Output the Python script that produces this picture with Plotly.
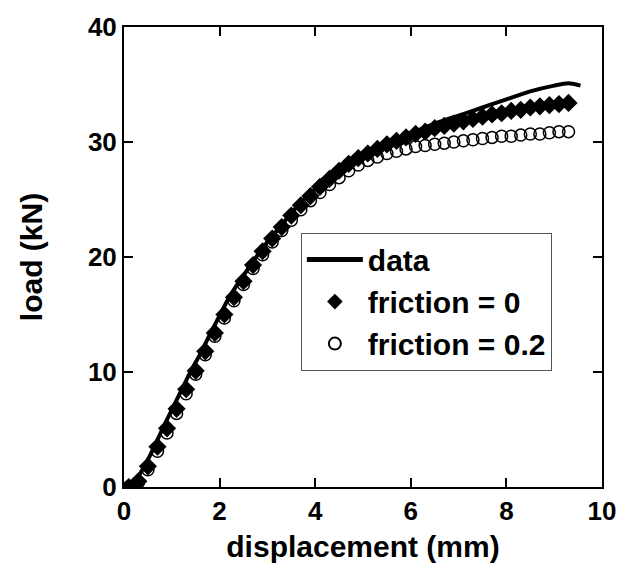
import plotly.graph_objects as go

# measured data (solid line)
data_disp = [0.1, 0.2, 0.4, 0.6, 0.8, 1.0, 1.2, 1.4, 1.6, 1.8, 2.0, 2.2, 2.4, 2.6, 2.8, 3.0,
             3.3, 3.6, 4.0, 4.3, 4.6, 5.0, 5.4, 5.9, 6.5, 7.0, 7.5, 8.0, 8.5, 9.0, 9.3, 9.55]
data_load = [0.0, 0.3, 1.6, 3.2, 5.0, 6.7, 8.4, 10.1, 11.6, 13.3, 14.9, 16.5, 17.8, 19.0, 20.2, 21.3,
             22.8, 24.3, 25.9, 27.0, 28.0, 29.0, 29.8, 30.6, 31.6, 32.3, 33.0, 33.7, 34.4, 34.9, 35.1, 34.9]

# simulation displacements
sim_disp = [0.1, 0.3, 0.5, 0.7, 0.9, 1.1, 1.3, 1.5, 1.7, 1.9, 2.1, 2.3, 2.5, 2.7, 2.9, 3.1, 3.3, 3.5,
            3.7, 3.9, 4.1, 4.3, 4.5, 4.7, 4.9, 5.1, 5.3, 5.5, 5.7, 5.9, 6.1, 6.3, 6.5, 6.7, 6.9, 7.1,
            7.3, 7.5, 7.7, 7.9, 8.1, 8.3, 8.5, 8.7, 8.9, 9.1, 9.3]
# friction = 0 (diamonds)
load_f0 = [0.0, 0.5, 1.8, 3.5, 5.1, 6.8, 8.5, 10.1, 11.8, 13.4, 15.0, 16.5, 17.9, 19.3, 20.5, 21.6, 22.6, 23.6,
           24.5, 25.3, 26.1, 26.8, 27.5, 28.1, 28.6, 29.0, 29.4, 29.8, 30.1, 30.4, 30.7, 30.9, 31.2, 31.4, 31.6, 31.8,
           32.0, 32.2, 32.4, 32.5, 32.7, 32.8, 33.0, 33.1, 33.2, 33.3, 33.4]
# friction = 0.2 (open circles)
load_f02 = [0.0, 0.4, 1.5, 3.1, 4.7, 6.4, 8.1, 9.8, 11.5, 13.1, 14.7, 16.2, 17.6, 19.0, 20.2, 21.3, 22.3, 23.2,
            24.1, 24.9, 25.6, 26.3, 26.9, 27.5, 28.0, 28.4, 28.7, 29.0, 29.2, 29.4, 29.6, 29.7, 29.8, 29.9, 30.0, 30.1,
            30.2, 30.3, 30.4, 30.5, 30.5, 30.6, 30.7, 30.7, 30.8, 30.9, 30.9]

x_ticks = [0, 2, 4, 6, 8, 10]
y_ticks = [0, 10, 20, 30, 40]

FONT = "Liberation Sans, Arial, sans-serif"

fig = go.Figure()
fig.add_trace(go.Scatter(x=sim_disp, y=load_f02, mode="markers", name="friction = 0.2",
                         marker=dict(symbol="circle-open", size=12, color="black", line=dict(width=1.5)),
                         legendrank=3))
fig.add_trace(go.Scatter(x=sim_disp, y=load_f0, mode="markers", name="friction = 0",
                         marker=dict(symbol="diamond", size=14, color="black"),
                         legendrank=2))
fig.add_trace(go.Scatter(x=data_disp, y=data_load, mode="lines", name="data",
                         line=dict(color="black", width=4, shape="spline", smoothing=0.6),
                         legendrank=1))

axis_common = dict(showline=True, linecolor="black", linewidth=2, mirror="ticks",
                   ticks="inside", ticklen=9, tickwidth=2, tickcolor="black",
                   showgrid=False, zeroline=False,
                   tickfont=dict(family=FONT, size=26, color="black", weight="bold"))

fig.update_xaxes(range=[0, 10], tickvals=x_ticks, ticktext=[str(v) for v in x_ticks],
                 automargin="bottom",
                 title=dict(text="displacement (mm)", font=dict(family=FONT, size=30, color="black", weight="bold"),
                            standoff=11),
                 **axis_common)
fig.update_yaxes(range=[0, 40], tickvals=y_ticks, ticktext=[str(v) for v in y_ticks],
                 automargin="left",
                 title=dict(text="load (kN)", font=dict(family=FONT, size=30, color="black", weight="bold"),
                            standoff=36),
                 **axis_common)

fig.update_layout(
    width=637, height=569,
    margin=dict(l=116, r=43, t=19, b=90),
    paper_bgcolor="white", plot_bgcolor="white",
    showlegend=True,
    legend=dict(x=0.370, y=0.553, xanchor="left", yanchor="top",
                bgcolor="white", bordercolor="#555555", borderwidth=1,
                font=dict(family=FONT, size=30, color="black", weight="bold"),
                itemsizing="constant", itemwidth=56, tracegroupgap=0),
)

fig.write_html("out.html")
